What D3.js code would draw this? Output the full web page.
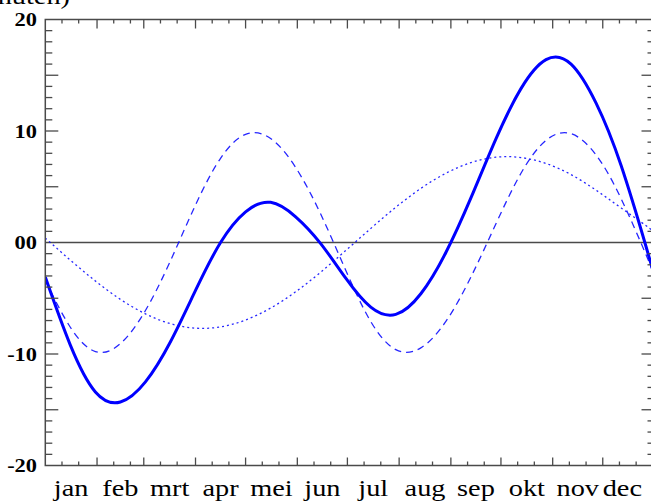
<!DOCTYPE html>
<html lang="nl">
<head>
<meta charset="utf-8">
<title>Tijdvereffening</title>
<script src="https://cdn.jsdelivr.net/npm/d3@7/dist/d3.min.js"></script>
<style>
  body { margin: 0; background: #fff; }
  svg { display: block; }
  svg text { font-family: "Liberation Serif", "Times New Roman", Times, serif; }
</style>
</head>
<body>
<script>
var days = [0, 15, 30, 45, 60, 75, 90, 105, 120, 135, 150, 165, 180,
            195, 210, 225, 240, 255, 270, 285, 300, 315, 330, 345, 360, 365];
// tijdvereffening (minuten), dikke lijn
var totaal = [-3.1, -9.2, -13.4, -14.3, -12.5, -8.9, -4.3, 0.0, 2.75, 3.6, 2.3, -0.1, -3.2,
              -5.8, -6.45, -4.6, -0.9, 4.0, 9.3, 13.8, 16.4, 16.0, 12.5, 6.9, -0.4, -3.0];
// bijdrage schuine stand van de aardas, gestreept
var scheefstand = [-3.4, -7.6, -9.78, -9.07, -6.1, -1.64, 3.37, 7.55, 9.7, 9.33, 6.73, 2.55, -2.49,
                   -7.09, -9.61, -9.45, -7.08, -3.1, 1.68, 6.21, 9.16, 9.76, 7.85, 3.93, -1.13, -2.98];
// bijdrage elliptische baan, gestippeld
var ellips = [0.4, -1.58, -3.45, -5.1, -6.4, -7.28, -7.68, -7.57, -6.95, -5.88, -4.42, -2.66, -0.72,
              1.26, 3.16, 4.85, 6.21, 7.16, 7.65, 7.62, 7.09, 6.09, 4.69, 3.1, 1.5, 0.9];

var maanden = ["jan", "feb", "mrt", "apr", "mei", "jun", "jul", "aug", "sep", "okt", "nov", "dec"];
var maandStart = [0, 31, 59, 90, 120, 151, 181, 212, 243, 273, 304, 334, 365];
var yTicks = [20, 10, 0, -10, -20];
var yLabels = ["20", "10", "00", "-10", "-20"];

var W = 651, H = 504;
var pL = 45.3, pR = 654.5, pT = 19.5, pB = 465.5;
var stretch = 1.18;

var svg = d3.select("body").append("svg").attr("width", W).attr("height", H);

var x = d3.scaleLinear().domain([0, 365]).range([pL, pR]);
var y = d3.scaleLinear().domain([-20, 20]).range([pB, pT]);

// nullijn
svg.append("line")
  .attr("x1", pL).attr("x2", pR)
  .attr("y1", y(0)).attr("y2", y(0))
  .attr("stroke", "#4a4a4a").attr("stroke-width", 1.5);

// curves
svg.append("clipPath").attr("id", "plot").append("rect")
  .attr("x", pL).attr("y", pT).attr("width", pR - pL).attr("height", pB - pT);

function lijn(vals) {
  return d3.line()
    .x(function(d, i) { return x(days[i]); })
    .y(function(d) { return y(d); })
    .curve(d3.curveNatural)(vals);
}

var g = svg.append("g").attr("clip-path", "url(#plot)");
g.append("path").attr("d", lijn(ellips))
  .attr("fill", "none").attr("stroke", "#0000ff").attr("stroke-width", 1.3)
  .attr("stroke-dasharray", "2,3").attr("opacity", 0.85);
g.append("path").attr("d", lijn(scheefstand))
  .attr("fill", "none").attr("stroke", "#0000ff").attr("stroke-width", 1.3)
  .attr("stroke-dasharray", "7,5").attr("opacity", 0.85);
g.append("path").attr("d", lijn(totaal))
  .attr("fill", "none").attr("stroke", "#0000ff").attr("stroke-width", 3);

// kader
svg.append("rect")
  .attr("x", pL).attr("y", pT).attr("width", pR - pL).attr("height", pB - pT)
  .attr("fill", "none").attr("stroke", "#4a4a4a").attr("stroke-width", 1.5);

// x ticks: maandgrens lang, dag 10 en 20 kort
var xt = [];
for (var m = 0; m < 12; m++) {
  if (m > 0) xt.push({ d: maandStart[m], major: true });
  xt.push({ d: maandStart[m] + 10, major: false });
  xt.push({ d: maandStart[m] + 20, major: false });
}
var tickCol = "#4a4a4a";
svg.append("g").selectAll("line").data(xt).enter().append("line")
  .attr("x1", function(d) { return x(d.d); }).attr("x2", function(d) { return x(d.d); })
  .attr("y1", pB).attr("y2", function(d) { return pB - (d.major ? 8 : 4); })
  .attr("stroke", tickCol).attr("stroke-width", 1.3);
svg.append("g").selectAll("line").data(xt).enter().append("line")
  .attr("x1", function(d) { return x(d.d); }).attr("x2", function(d) { return x(d.d); })
  .attr("y1", pT).attr("y2", function(d) { return pT + (d.major ? 9 : 4); })
  .attr("stroke", tickCol).attr("stroke-width", 1.3);

// y ticks: elke minuut, lang per 5
var yt = d3.range(-19, 20).filter(function(v) { return v !== 0; });
svg.append("g").selectAll("line").data(yt).enter().append("line")
  .attr("x1", pL).attr("x2", function(v) { return pL + (v % 5 === 0 ? 13 : 7); })
  .attr("y1", function(v) { return y(v); }).attr("y2", function(v) { return y(v); })
  .attr("stroke", tickCol).attr("stroke-width", 1.3);
svg.append("g").selectAll("line").data(yt).enter().append("line")
  .attr("x1", pR).attr("x2", function(v) { return pR - (v % 5 === 0 ? 13 : 7); })
  .attr("y1", function(v) { return y(v); }).attr("y2", function(v) { return y(v); })
  .attr("stroke", tickCol).attr("stroke-width", 1.3);

// y labels
svg.append("g").selectAll("text").data(yTicks).enter().append("text")
  .attr("transform", function(v) { return "translate(37," + (y(v) + 6.5) + ") scale(" + stretch + ",1)"; })
  .attr("text-anchor", "end")
  .attr("font-size", 19).attr("font-weight", "bold")
  .text(function(v, i) { return yLabels[i]; });

// maandnamen
svg.append("g").selectAll("text").data(maanden).enter().append("text")
  .attr("text-anchor", "middle")
  .attr("font-size", 24)
  .text(function(d) { return d; })
  .each(function(d, i) {
    var cx = x((maandStart[i] + maandStart[i + 1]) / 2);
    var w = this.getComputedTextLength() * stretch;
    if (cx + w / 2 > 642) cx = 642 - w / 2;
    d3.select(this).attr("transform", "translate(" + cx + ",496) scale(" + stretch + ",1)");
  });

// as-titel, grotendeels buiten beeld
svg.append("text")
  .attr("transform", "translate(70,4) scale(" + stretch + ",1)")
  .attr("text-anchor", "end")
  .attr("font-size", 24)
  .text("tijdvereffening (minuten)");
</script>
</body>
</html>
